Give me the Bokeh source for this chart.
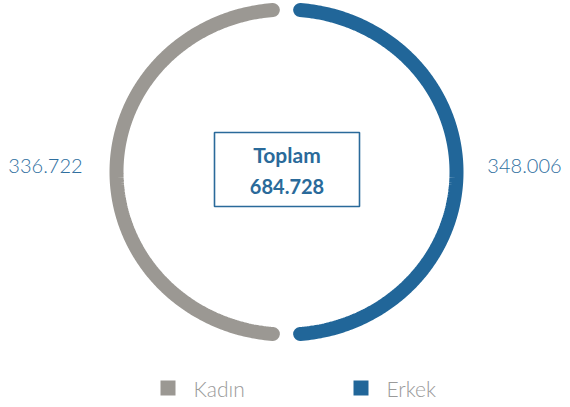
import numpy as np
from bokeh.plotting import figure
from bokeh.models import Range1d
from bokeh.core.properties import value
from bokeh.embed import file_html
from bokeh.resources import INLINE

categories = ["Kadın", "Erkek"]
values = [336722, 348006]
value_labels = ["336.722", "348.006"]
total_label = "684.728"
title_label = "Toplam"
colors = ["#9b9893", "#216699"]

W, H = 570, 407
p = figure(width=W, height=H, output_backend="svg", toolbar_location=None,
           x_range=Range1d(0, W), y_range=Range1d(H, 0),
           min_border=0, outline_line_color=None)
p.axis.visible = False
p.grid.visible = False
p.background_fill_color = "white"
p.border_fill_color = "white"

cx, cy = 286.0, 171.5
rx, ry = 170.0, 162.5
pad = 4.6
sweep = 360.0 / len(categories)
# Erkek on the right (clockwise from top), Kadın on the left
order = [1, 0]
for k, idx in enumerate(order):
    a0 = k * sweep + pad
    a1 = (k + 1) * sweep - pad
    th = np.radians(np.linspace(a0, a1, 200))
    xs = cx + rx * np.sin(th)
    ys = cy - ry * np.cos(th)
    p.line(xs, ys, line_color=colors[idx], line_width=14, line_cap="round")

light = value("Lato Light")
num_color = "#2f6f9f"
p.text([45], [165], text=[value_labels[0]], text_font=light, text_font_size="20px",
       text_color=num_color, text_align="center", text_baseline="middle")
p.text([524], [165], text=[value_labels[1]], text_font=light, text_font_size="20px",
       text_color=num_color, text_align="center", text_baseline="middle")

# center box
p.rect([286.5], [169], width=145, height=74, fill_color=None,
       line_color="#2a6a9a", line_width=1.6)
p.text([286.5], [154], text=[title_label], text_font=value("Lato"), text_font_style="bold",
       text_font_size="21px", text_color="#2a6a9a", text_align="center", text_baseline="middle")
p.text([286.5], [186], text=[total_label], text_font=value("Lato"), text_font_style="bold",
       text_font_size="20px", text_color="#2a6a9a", text_align="center", text_baseline="middle")

# legend
lx = [167.5, 360.5]
p.rect(lx, [387.5, 387.5], width=15, height=15, fill_color=colors, line_color=None)
p.text([193, 386], [388, 388], text=categories, text_font=light, text_font_size="21px",
       text_color="#9a9a9a", text_align="left", text_baseline="middle")

open("out.html", "w").write(file_html(p, INLINE))
